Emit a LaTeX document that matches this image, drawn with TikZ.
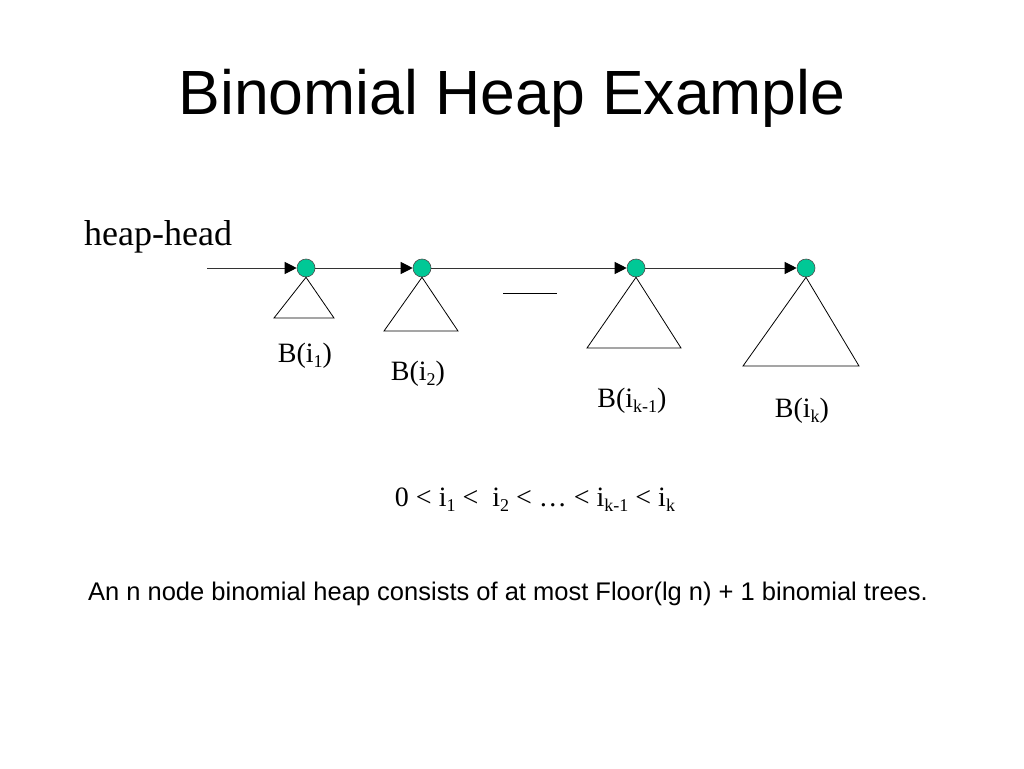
\documentclass[tikz,border=0pt]{standalone}
\usepackage{fontspec}
\setmainfont{Liberation Sans}
\newfontfamily\tms{Liberation Serif}
\usetikzlibrary{arrows.meta}
\newcommand\lsub[1]{\raisebox{-0.4ex}{\fontsize{18}{18}\selectfont #1}}
\definecolor{nodegreen}{RGB}{0,200,150}
\tikzset{
  heapnode/.style={circle,draw=black!70,fill=nodegreen,minimum size=18pt,inner sep=0pt,line width=0.6pt},
  link/.style={draw=black!80,line width=1pt,-{Triangle[length=12pt,width=12pt,color=black]}},
  tree/.style={draw=black,line width=0.8pt},
  lab/.style={font=\tms\fontsize{28}{28}\selectfont,inner sep=0pt}
}
\begin{document}
\begin{tikzpicture}[x=1pt,y=-1pt]
\useasboundingbox[fill=white] (0,0) rectangle (1024,768);
\node[inner sep=0pt,font=\fontsize{62.5}{62.5}\selectfont] (title) at (512,98) {Binomial Heap Example};
\node[inner sep=0pt,anchor=west,font=\tms\fontsize{36}{36}\selectfont] (hh) at (84,237) {heap-head};
\coordinate (start) at (207,268);
\node[heapnode] (n1) at (306,268) {};
\node[heapnode] (n2) at (422,268) {};
\node[heapnode] (n3) at (636,268) {};
\node[heapnode] (n4) at (806,268) {};
\draw[link] (start) -- (n1);
\draw[link] (n1) -- (n2);
\draw[link] (n2) -- (n3);
\draw[link] (n3) -- (n4);
\draw[tree] (n1.south) -- (274,318) -- (334,318) -- cycle;
\draw[tree] (n2.south) -- (384,331) -- (458,331) -- cycle;
\draw[tree] (n3.south) -- (587,348) -- (681,348) -- cycle;
\draw[tree] (n4.south) -- (743,366) -- (859,366) -- cycle;
\coordinate (d1) at (503,293);
\coordinate (d2) at (557,293);
\draw[line width=1pt] (d1) -- (d2);
\node[lab] (b1) at (305,356) {B(i\lsub{1})};
\node[lab] (b2) at (418,374) {B(i\lsub{2})};
\node[lab] (b3) at (632,401) {B(i\lsub{k-1})};
\node[lab] (b4) at (802,411) {B(i\lsub{k})};
\node[lab] (ineq) at (535,500) {0 < i\lsub{1} <\ \ i\lsub{2} < … < i\lsub{k-1} < i\lsub{k}};
\node[inner sep=0pt,font=\fontsize{25.5}{25.5}\selectfont] (foot) at (508,594) {An n node binomial heap consists of at most Floor(lg n) + 1 binomial trees.};
\end{tikzpicture}
\end{document}
